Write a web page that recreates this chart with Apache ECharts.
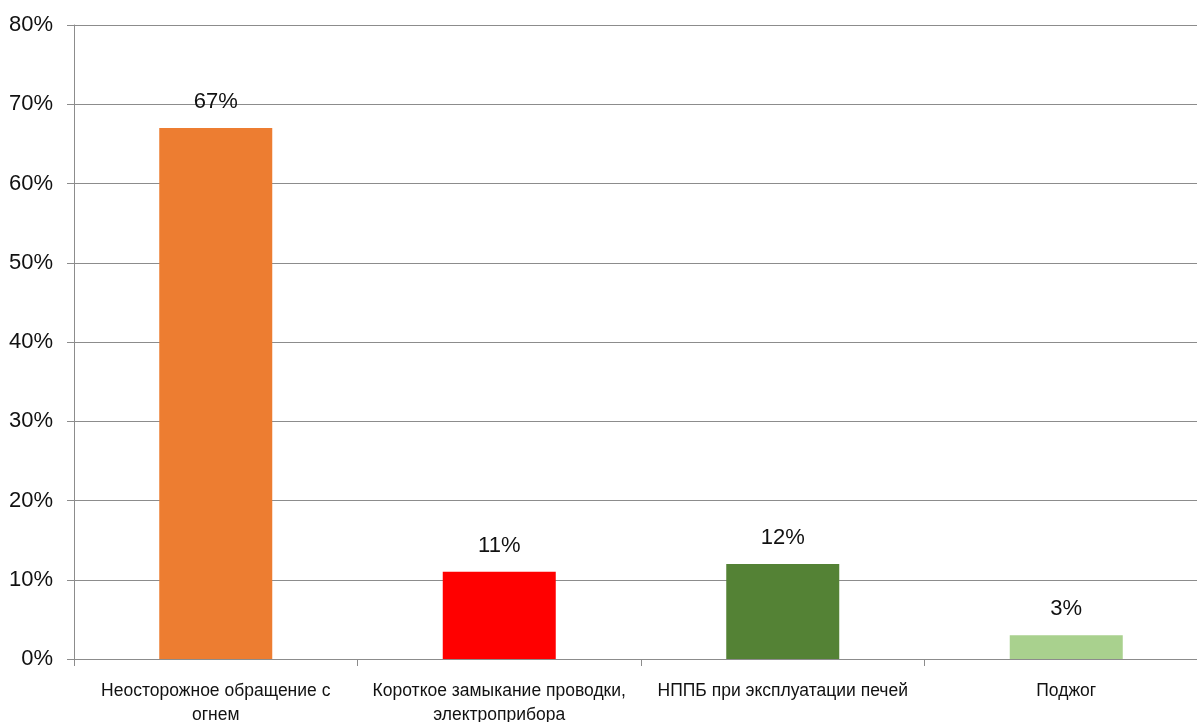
<!DOCTYPE html>
<html><head><meta charset="utf-8">
<script src="https://cdn.jsdelivr.net/npm/echarts@6/dist/echarts.min.js"></script>
<style>html,body{margin:0;padding:0;background:#fff;overflow:hidden}#c{width:1197px;height:722px}</style>
</head><body><div id="c"></div>
<script>
const categories = ['Неосторожное обращение с огнем', 'Короткое замыкание проводки, электроприбора', 'НППБ при эксплуатации печей', 'Поджог'];
const values = [67, 11, 12, 3];
const colors = ['#ED7D31', '#FF0000', '#548235', '#A9D18E'];
const FONT = '"Liberation Sans", Arial, sans-serif';
const chart = echarts.init(document.getElementById('c'));
chart.setOption({
  animation: false,
  grid: { left: 74, top: 25, width: 1134, height: 634, containLabel: false, outerBoundsMode: 'none' },
  xAxis: {
    type: 'category', data: categories,
    axisLine: { lineStyle: { color: '#8c8c8c', width: 1 } },
    axisTick: { show: true, length: 7, lineStyle: { color: '#8c8c8c' } },
    axisLabel: {
      interval: 0, margin: 20, color: '#111', fontFamily: FONT, fontSize: 17.5, lineHeight: 24,
      formatter: v => {
        if (v === 'Неосторожное обращение с огнем') return 'Неосторожное обращение с\nогнем';
        if (v === 'Короткое замыкание проводки, электроприбора') return 'Короткое замыкание проводки,\nэлектроприбора';
        return v;
      }
    }
  },
  yAxis: {
    type: 'value', min: 0, max: 80, interval: 10,
    axisLine: { show: true, lineStyle: { color: '#8c8c8c' } },
    axisTick: { show: true, length: 7, lineStyle: { color: '#8c8c8c' } },
    splitLine: { lineStyle: { color: '#8c8c8c', width: 1 } },
    axisLabel: { formatter: '{value}%', color: '#111', fontFamily: FONT, fontSize: 22, margin: 21 }
  },
  series: [{
    type: 'bar', barWidth: 113,
    data: values.map((v, i) => ({ value: v, itemStyle: { color: colors[i] } })),
    label: { show: true, position: 'top', distance: 15, formatter: '{c}%', color: '#111', fontFamily: FONT, fontSize: 22 }
  }]
});
</script></body></html>
